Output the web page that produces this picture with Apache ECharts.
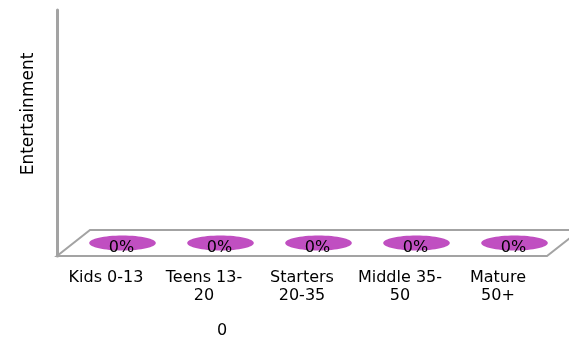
<!DOCTYPE html>
<html>
<head>
<meta charset="utf-8">
<script src="https://cdn.jsdelivr.net/npm/echarts@6/dist/echarts.min.js"></script>
<style>
  html, body { margin: 0; padding: 0; background: #ffffff; }
  #chart { width: 569px; height: 337px; }
</style>
</head>
<body>
<div id="chart"></div>
<script>
// Age groups and their entertainment share
const categories = ['Kids 0-13', 'Teens 13-20', 'Starters 20-35', 'Middle 35-50', 'Mature 50+'];
const tickLabels = ['Kids 0-13', 'Teens 13-\n20', 'Starters\n20-35', 'Middle 35-\n50', 'Mature\n50+'];
const shares = [0, 0, 0, 0, 0];
const yAxisTitle = 'Entertainment';
const xAxisTitle = '0';

// Pseudo-3D depth of the floor (back edge offset from the front edge)
const DEPTH_X = 33;
const DEPTH_Y = -26;
const FONT = '"DejaVu Sans", Verdana, sans-serif';
const AXIS_GREY = '#a3a3a3';
const BAR_COLOR = '#c04fc1';

const chart = echarts.init(document.getElementById('chart'), null, { renderer: 'canvas' });

// Floor of the plot: a parallelogram built from the grid rectangle
function renderFloor(params, api) {
  const cs = params.coordSys;
  const x0 = cs.x, x1 = cs.x + cs.width, yb = cs.y + cs.height;
  return {
    type: 'polygon',
    shape: {
      points: [
        [x0, yb], [x1, yb],
        [x1 + DEPTH_X, yb + DEPTH_Y], [x0 + DEPTH_X, yb + DEPTH_Y]
      ]
    },
    style: { fill: 'none', stroke: AXIS_GREY, lineWidth: 2 }
  };
}

// Each bar is a cylinder of zero height: only its top face (an ellipse) shows
function renderBar(params, api) {
  const idx = api.value(0);
  const top = api.coord([idx, api.value(1)]);
  const band = api.size([1, 0])[0];
  const cx = top[0] + DEPTH_X / 2;
  const cy = top[1] + DEPTH_Y / 2;
  const pct = Math.round(api.value(1) * 100) + '%';
  return {
    type: 'group',
    children: [
      {
        type: 'ellipse',
        shape: { cx: cx, cy: cy, rx: band * 0.34, ry: 7.5 },
        style: { fill: BAR_COLOR }
      },
      {
        type: 'text',
        x: cx - 1,
        y: cy + 5,
        style: {
          text: pct,
          fill: '#000000',
          font: '16px ' + FONT,
          align: 'center',
          verticalAlign: 'middle'
        }
      }
    ]
  };
}

chart.setOption({
  animation: false,
  backgroundColor: '#ffffff',
  grid: {
    left: 57, right: 22, top: 10, bottom: 81,
    containLabel: false,
    outerBoundsMode: 'none'
  },
  xAxis: {
    type: 'category',
    data: categories,
    axisLine: { show: false },
    axisTick: { show: false },
    axisLabel: {
      margin: 13,
      color: '#000000',
      fontFamily: FONT,
      fontSize: 16,
      lineHeight: 18,
      interval: 0,
      formatter: (v, i) => tickLabels[i]
    },
    name: xAxisTitle,
    nameLocation: 'middle',
    nameGap: 67,
    nameTextStyle: {
      color: '#000000',
      fontFamily: FONT,
      fontSize: 16,
      padding: [0, 160, 0, 0]
    }
  },
  yAxis: {
    type: 'value',
    min: 0,
    max: 1,
    axisLine: { show: true, lineStyle: { color: AXIS_GREY, width: 3 } },
    axisTick: { show: false },
    axisLabel: { show: false },
    splitLine: { show: false },
    name: yAxisTitle,
    nameLocation: 'middle',
    nameGap: 20,
    nameTextStyle: {
      color: '#000000',
      fontFamily: FONT,
      fontSize: 17,
      padding: [0, 0, 0, 38]
    }
  },
  series: [
    {
      type: 'custom',
      renderItem: renderFloor,
      data: [0],
      z: 1,
      silent: true
    },
    {
      type: 'custom',
      renderItem: renderBar,
      data: shares.map((v, i) => [i, v]),
      encode: { x: 0, y: 1 },
      z: 2
    }
  ]
});
</script>
</body>
</html>
